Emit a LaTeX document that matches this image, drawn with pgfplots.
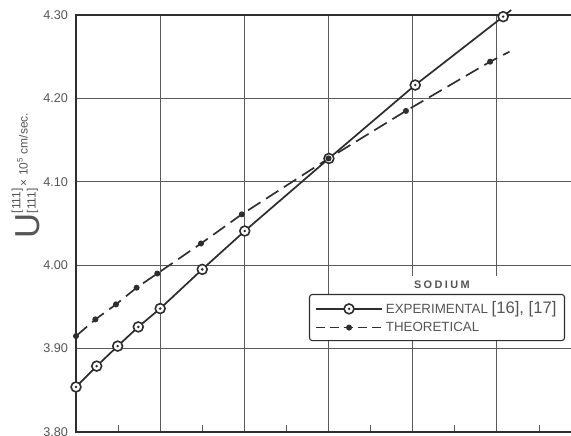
\documentclass[border=0pt]{standalone}
\usepackage{pgfplots}
\pgfplotsset{compat=1.18}
\usepackage{pgfplotstable}
\usepackage{fontspec}
\setmainfont{Liberation Sans}
\definecolor{ink}{HTML}{2E2E2E}
\definecolor{gridc}{HTML}{5A5A5A}
\definecolor{txt}{HTML}{555555}

\pgfdeclareplotmark{circdot}{%
  \pgfpathcircle{\pgfpointorigin}{\pgfplotmarksize}%
  \pgfusepathqfillstroke
  \begin{pgfscope}%
  \pgfsetfillcolor{ink}%
  \pgfpathcircle{\pgfpointorigin}{1.05pt}%
  \pgfusepathqfill
  \end{pgfscope}}

% experimental: measured points, last row = end of drawn line (no mark)
\pgfplotstableread{
x y
0.000 3.854
0.246 3.879
0.495 3.903
0.740 3.926
1.000 3.948
1.500 3.995
2.005 4.041
3.005 4.128
4.030 4.216
5.075 4.298
5.170 4.306
}\exptab
% theoretical: computed points, last row = end of drawn line (no mark)
\pgfplotstableread{
x y
0.000 3.915
0.230 3.935
0.475 3.953
0.720 3.973
0.966 3.990
1.485 4.026
1.970 4.061
3.000 4.128
3.920 4.185
4.920 4.244
5.150 4.256
}\theotab

\newcommand{\ulabel}{%
 {\fontsize{26}{26}\selectfont U}%
 \raisebox{3pt}{\fontsize{9}{8.5}\selectfont\shortstack[l]{[111]\\{[111]}}}%
 \raisebox{9pt}{\fontsize{9}{9}\selectfont\,× 10\textsuperscript{5} cm/sec.}}

\begin{document}
\begin{tikzpicture}
\begin{axis}[
  scale only axis, width=378.75pt, height=312.75pt,
  xmin=0, xmax=6, ymin=3.80, ymax=4.30,
  xtick={0,1,2,3,4,5,6}, xticklabels={},
  minor xtick={0.5,1.5,2.5,3.5,4.5,5.5},
  ytick={3.8,3.9,4.0,4.1,4.2,4.3},
  tick pos=left, tick align=inside,
  grid=major, major grid style={gridc, line width=0.6pt},
  major tick length=0pt, minor tick length=5pt,
  tick style={gridc, line width=0.6pt},
  axis line style={ink, line width=0.9pt},
  /pgf/number format/assume math mode=true,
  yticklabel style={font=\fontsize{9.5}{9.5}\selectfont, text=txt, xshift=-2.5pt,
    /pgf/number format/.cd, fixed, fixed zerofill, precision=2},
  ylabel={\ulabel},
  ylabel style={at={(axis description cs:-0.062,0.615)}, anchor=south, text=txt},
  clip=false,
  legend style={at={(axis cs:5.81,3.9655)}, anchor=north east, draw=ink,
    line width=0.8pt, rounded corners=2pt, fill=white,
    font=\fontsize{10}{11}\selectfont, text=txt,
    inner xsep=4pt, inner ysep=3.5pt, row sep=0.5pt},
  legend cell align=left,
  legend image code/.code={\draw[mark repeat=2, mark phase=2]
     plot coordinates {(0pt,0pt) (25pt,0pt) (50pt,0pt)};},
]
\addplot[ink, line width=1.3pt, mark=circdot, mark size=3.7pt,
  mark options={fill=white, draw=ink, line width=1.2pt},
  mark indices={1,...,10}, forget plot] table {\exptab};
\addplot[ink, line width=1.25pt, dash pattern=on 11pt off 5pt,
  mark=*, mark size=1.6pt, mark options={solid, fill=ink, draw=ink},
  mark indices={1,...,10}, forget plot] table {\theotab};

\addlegendimage{ink, line width=1.3pt, mark=circdot, mark size=3.7pt,
  mark options={fill=white, draw=ink, line width=1.2pt}}
\addlegendentry{EXPERIMENTAL {\fontsize{12.5}{12}\selectfont [16], [17]}}
\addlegendimage{ink, line width=1.25pt, dash pattern=on 7pt off 3.5pt,
  mark=*, mark size=1.6pt, mark options={solid, fill=ink, draw=ink}}
\addlegendentry{THEORETICAL}

\node[anchor=south, fill=white, inner sep=0pt, minimum width=169pt,
  minimum height=13.5pt, text=txt,
  font=\fontsize{8.2}{9}\bfseries] at (axis cs:4.347,3.9655)
  {S\kern1.8pt O\kern1.8pt D\kern1.8pt I\kern1.8pt U\kern1.8pt M};

\coordinate (nw) at (rel axis cs:0,1);
\coordinate (se) at (rel axis cs:1,0);
\end{axis}
\pgfresetboundingbox
\path ([shift={(-57pt,11.25pt)}]nw) rectangle ([shift={(-7.5pt,-3pt)}]se);
\end{tikzpicture}
\end{document}
